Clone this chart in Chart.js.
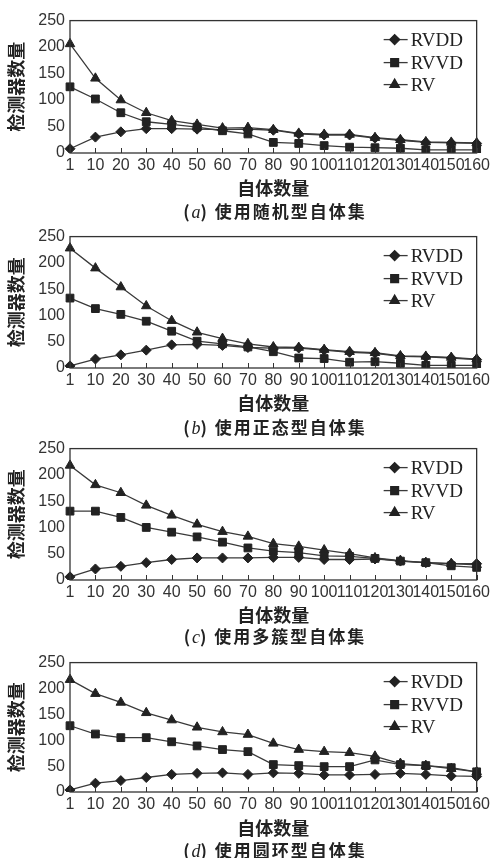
<!DOCTYPE html>
<html>
<head>
<meta charset="utf-8">
<script src="https://cdn.jsdelivr.net/npm/chart.js@4/dist/chart.umd.min.js"></script>
<style>
  body { margin: 0; background: #fff; width: 493px; height: 858px; position: relative; overflow: hidden; }
  .panel { position: absolute; left: 0; width: 493px; }
  .caption {
    position: absolute; left: 70px; width: 410px; text-align: center;
    font-family: "Noto Sans CJK SC", sans-serif; font-size: 17px; font-weight: bold; letter-spacing: 2px;
    color: #222; line-height: 20px;
  }
  .caption i { font-family: "Liberation Serif", serif; font-weight: normal; font-size: 18px; letter-spacing: 0; }
</style>
</head>
<body>
<script>
// x categories: number of self samples
const selfCounts = ['1', '10', '20', '30', '40', '50', '60', '70', '80', '90', '100', '110', '120', '130', '140', '150', '160'];

// (a) random self set
const rvddA = [8, 30, 40, 46, 46, 45, 44, 45, 43, 36, 34, 34, 28, 24, 20, 19, 18];
const rvvdA = [125, 102, 76, 59, 54, 49, 42, 36, 20, 18, 14, 11, 10, 9, 6, 6, 6];
const rvA = [206, 141, 100, 76, 61, 54, 47, 48, 44, 37, 35, 35, 29, 25, 21, 20, 19];

// (b) normal self set
const rvddB = [4, 17, 25, 34, 44, 45, 43, 39, 38, 38, 34, 30, 28, 22, 21, 19, 16];
const rvvdB = [133, 113, 102, 89, 70, 51, 46, 40, 31, 19, 18, 11, 12, 9, 5, 5, 5];
const rvB = [228, 190, 154, 118, 90, 68, 56, 46, 40, 39, 35, 31, 29, 23, 22, 20, 17];

// (c) multi-cluster self set
const rvddC = [6, 21, 26, 33, 39, 42, 42, 42, 43, 43, 39, 39, 40, 36, 33, 31, 31];
const rvvdC = [131, 131, 119, 100, 91, 82, 72, 61, 55, 52, 46, 45, 41, 36, 33, 27, 24];
const rvC = [218, 181, 166, 142, 123, 106, 92, 83, 69, 64, 57, 50, 42, 37, 33, 31, 29];

// (d) ring self set
const rvddD = [4, 17, 22, 28, 34, 36, 37, 34, 37, 36, 33, 33, 34, 36, 34, 31, 30];
const rvvdD = [128, 112, 105, 105, 97, 89, 82, 78, 53, 51, 49, 49, 62, 53, 51, 47, 39];
const rvD = [217, 190, 173, 153, 139, 125, 116, 111, 94, 82, 78, 76, 69, 55, 51, 45, 39];

const seriesNames = ['RVDD', 'RVVD', 'RV'];
const yTicks = { min: 0, max: 250, step: 50 };

const panels = [
  { id: 'a', caption: '使用随机型自体集', plotTop: 16, plotBottom: 153, titleY: 188, captionY: 211, data: [rvddA, rvvdA, rvA] },
  { id: 'b', caption: '使用正态型自体集', plotTop: 232, plotBottom: 368, titleY: 403, captionY: 427, data: [rvddB, rvvdB, rvB] },
  { id: 'c', caption: '使用多簇型自体集', plotTop: 444, plotBottom: 580, titleY: 615, captionY: 636, data: [rvddC, rvvdC, rvC] },
  { id: 'd', caption: '使用圆环型自体集', plotTop: 658, plotBottom: 792, titleY: 828, captionY: 850, data: [rvddD, rvvdD, rvD] },
];

const ink = '#222';
const lineColor = '#3a3a3a';
const markers = [
  { style: 'rectRot', radius: 5 },
  { style: 'rect', radius: 5.5 },
  { style: 'triangle', radius: 5.5 },
];

// box around plot area + small inward ticks on x axis + legend in top right
const framePlugin = {
  id: 'frame',
  afterDraw(chart) {
    const { ctx, chartArea: a } = chart;
    const x = chart.scales.x;
    ctx.save();
    ctx.strokeStyle = '#333';
    ctx.lineWidth = 1.3;
    ctx.strokeRect(a.left, a.top, a.right - a.left, a.bottom - a.top);
    ctx.lineWidth = 1;
    ctx.beginPath();
    for (let i = 0; i < x.ticks.length; i++) {
      const px = Math.round(x.getPixelForTick(i)) + 0.5;
      ctx.moveTo(px, a.bottom);
      ctx.lineTo(px, a.bottom - 5);
    }
    ctx.stroke();

    // legend
    const lx = a.right - 93;
    const rows = [19, 42, 64];
    chart.data.datasets.forEach((ds, i) => {
      const y = a.top + rows[i];
      ctx.strokeStyle = lineColor;
      ctx.lineWidth = 1.3;
      ctx.beginPath();
      ctx.moveTo(lx, y);
      ctx.lineTo(lx + 24, y);
      ctx.stroke();
      ctx.fillStyle = ink;
      ctx.strokeStyle = ink;
      Chart.helpers.drawPoint(ctx, { pointStyle: ds.pointStyle, radius: ds.pointRadius, rotation: 0, borderWidth: 1 }, lx + 11, y);
      ctx.fillStyle = ink;
      ctx.font = '19px "Liberation Serif", serif';
      ctx.textBaseline = 'middle';
      ctx.textAlign = 'left';
      ctx.fillText(ds.label, lx + 27, y + 1);
    });
    ctx.restore();
  }
};

panels.forEach(p => {
  const top = p.plotTop - 10;
  const xAxisH = p.titleY - p.plotBottom + 11 + 2;
  const height = p.plotBottom - top + xAxisH;

  const div = document.createElement('div');
  div.className = 'panel';
  div.style.top = top + 'px';
  div.style.height = height + 'px';
  const canvas = document.createElement('canvas');
  div.appendChild(canvas);
  document.body.appendChild(div);

  const cap = document.createElement('div');
  cap.className = 'caption';
  cap.style.top = (p.captionY - 10) + 'px';
  cap.innerHTML = '(<i>' + p.id + '</i>) ' + p.caption;
  document.body.appendChild(cap);

  new Chart(canvas.getContext('2d'), {
    type: 'line',
    data: {
      labels: selfCounts,
      datasets: p.data.map((values, i) => ({
        label: seriesNames[i],
        data: values,
        borderColor: lineColor,
        borderWidth: 1.3,
        backgroundColor: ink,
        pointStyle: markers[i].style,
        pointRadius: markers[i].radius,
        pointBackgroundColor: ink,
        pointBorderColor: ink,
        pointBorderWidth: 1,
        tension: 0,
        fill: false,
      })),
    },
    options: {
      responsive: true,
      maintainAspectRatio: false,
      animation: false,
      layout: { padding: { top: 10, right: 13, left: 0, bottom: 0 } },
      plugins: { legend: { display: false }, tooltip: { enabled: false } },
      scales: {
        x: {
          offset: false,
          grid: { display: false, drawTicks: false },
          border: { display: false },
          ticks: {
            autoSkip: false, maxRotation: 0, minRotation: 0, padding: 3,
            color: '#333', font: { family: '"Liberation Sans", Arial, sans-serif', size: 16 },
          },
          title: {
            display: true, text: '自体数量', color: ink,
            font: { family: '"Noto Sans CJK SC", sans-serif', size: 18, weight: 'bold', lineHeight: 1.2 },
            padding: { top: 0, bottom: 2 },
          },
          afterFit: s => { s.height = xAxisH; },
        },
        y: {
          min: yTicks.min, max: yTicks.max,
          grid: { display: false, drawTicks: false },
          border: { display: false },
          ticks: {
            stepSize: yTicks.step, padding: 5,
            color: '#333', font: { family: '"Liberation Sans", Arial, sans-serif', size: 16 },
          },
          title: {
            display: true, text: '检测器数量', color: ink,
            font: { family: '"Noto Sans CJK SC", sans-serif', size: 18, weight: 'bold', lineHeight: 1.2 },
            padding: { top: 5, bottom: 0 },
          },
          afterFit: s => { s.width = 70; },
        },
      },
    },
    plugins: [framePlugin],
  });
});
</script>
</body>
</html>
